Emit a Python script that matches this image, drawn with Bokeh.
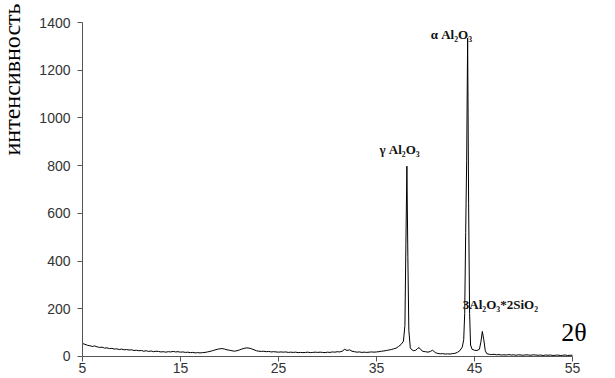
from bokeh.plotting import figure
from bokeh.models import Range1d, FixedTicker, Label
from bokeh.embed import file_html
from bokeh.resources import INLINE
import math

# ---- data ----
two_theta = [
    5.0, 5.25, 5.5, 5.75, 6.0, 6.25, 6.5, 6.75, 7.0, 7.25, 7.5, 7.75, 8.0, 8.25, 8.5, 8.75,
    9.0, 9.25, 9.5, 9.75, 10.0, 10.25, 10.5, 10.75, 11.0, 11.25, 11.5, 11.75, 12.0, 12.25,
    12.5, 12.75, 13.0, 13.25, 13.5, 13.75, 14.0, 14.25, 14.5, 14.75, 15.0, 15.25, 15.5, 15.75,
    16.0, 16.25, 16.5, 16.75, 17.0, 17.25, 17.5, 17.75, 18.0, 18.25, 18.5, 18.75, 19.0, 19.25,
    19.5, 19.75, 20.0, 20.25, 20.5, 20.75, 21.0, 21.25, 21.5, 21.75, 22.0, 22.25, 22.5, 22.75,
    23.0, 23.25, 23.5, 23.75, 24.0, 24.25, 24.5, 24.75, 25.0, 25.25, 25.5, 25.75, 26.0, 26.25,
    26.5, 26.75, 27.0, 27.25, 27.5, 27.75, 28.0, 28.25, 28.5, 28.75, 29.0, 29.25, 29.5, 29.75,
    30.0, 30.25, 30.5, 30.75, 31.0, 31.25, 31.5, 31.75, 32.0, 32.25, 32.5, 32.75, 33.0, 33.25,
    33.5, 33.75, 34.0, 34.25, 34.5, 34.75, 35.0, 35.25, 35.5, 35.75, 36.0, 36.25, 36.5, 36.75,
    37.0, 37.25, 37.5, 37.75, 37.9, 38.0, 38.1, 38.2, 38.3, 38.45, 38.6, 38.8, 39.0, 39.2,
    39.35, 39.5, 39.75, 40.0, 40.25, 40.5, 40.7, 40.85, 41.0, 41.25, 41.5, 41.75, 42.0, 42.25,
    42.5, 42.75, 43.0, 43.25, 43.5, 43.75, 43.9, 44.0, 44.1, 44.2, 44.3, 44.4, 44.5, 44.6,
    44.75, 45.0, 45.25, 45.5, 45.65, 45.8, 45.95, 46.1, 46.25, 46.5, 46.75, 47.0, 47.25, 47.5,
    47.75, 48.0, 48.25, 48.5, 48.75, 49.0, 49.25, 49.5, 49.75, 50.0, 50.25, 50.5, 50.75, 51.0,
    51.25, 51.5, 51.75, 52.0, 52.25, 52.5, 52.75, 53.0, 53.25, 53.5, 53.75, 54.0, 54.25, 54.5,
    54.75, 55.0,
]
intensity = [
    54, 51, 47, 45, 42, 44, 40, 38, 39, 35, 36, 33, 34, 31, 32, 29,
    31, 28, 29, 27, 28, 25, 26, 24, 25, 22, 24, 21, 23, 20,
    22, 21, 19, 20, 18, 20, 19, 21, 19, 20, 18, 19, 17, 18,
    16, 17, 15, 16, 15, 16, 17, 19, 21, 24, 27, 30, 32, 33,
    31, 28, 26, 24, 22, 24, 27, 31, 34, 36, 35, 32, 28, 24,
    22, 21, 22, 20, 21, 19, 20, 19, 18, 19, 18, 19, 17, 18,
    17, 18, 16, 17, 16, 17, 18, 16, 17, 18, 17, 18, 17, 16,
    18, 17, 19, 18, 20, 19, 22, 30, 25, 28, 22, 20, 18, 19,
    17, 18, 17, 18, 19, 18, 19, 20, 22, 23, 25, 27, 29, 32,
    35, 42, 50, 64, 130, 470, 798, 420, 110, 36, 28, 24, 26, 34,
    37, 29, 21, 20, 18, 21, 26, 22, 16, 13, 11, 12, 10, 11,
    10, 12, 13, 17, 24, 39, 70, 180, 520, 820, 1335, 640, 180, 48,
    30, 26, 25, 30, 60, 105, 70, 24, 12, 9, 8, 9, 7, 8,
    6, 7, 6, 8, 6, 7, 5, 7, 6, 5, 7, 6, 5, 7,
    6, 5, 6, 4, 6, 5, 6, 4, 5, 6, 4, 5, 6, 4,
    5, 5,
]

x_ticks = [5, 15, 25, 35, 45, 55]
y_ticks = [0, 200, 400, 600, 800, 1000, 1200, 1400]

peak_labels = ["γ Al₂O₃", "α Al₂O₃", "3Al₂O₃*2SiO₂"]
peak_label_x = [37.35, 44.75, 47.65]
peak_label_y = [869, 1348, 218]
peak_label_align = ["center", "right", "center"]

y_title = "интенсивность"
x_title = "2θ"

# ---- figure ----
# the frame fills the canvas; the axes sit at fixed data locations, bounded to 5..55 and 0..1400
p = figure(width=615, height=378, output_backend="svg", toolbar_location=None,
           x_range=Range1d(-3.367, 59.388), y_range=Range1d(-92.4, 1492.4),
           min_border_left=0, min_border_right=0, min_border_top=0, min_border_bottom=0)
p.outline_line_color = None
p.grid.visible = False
p.background_fill_color = "white"
p.border_fill_color = "white"

axis_col = "#555555"
for ax in (p.xaxis[0], p.yaxis[0]):
    ax.axis_line_color = axis_col
    ax.major_tick_line_color = axis_col
    ax.minor_tick_line_color = None
    ax.major_tick_in = 0
    ax.major_tick_out = 5
    ax.major_label_text_font = "Liberation Sans"
    ax.major_label_text_font_size = "14px"
    ax.major_label_text_color = "#333333"

p.yaxis.ticker = FixedTicker(ticks=y_ticks)
p.yaxis.bounds = (0, 1400)
p.yaxis.fixed_location = 5
p.yaxis.major_label_standoff = 7

p.xaxis.ticker = FixedTicker(ticks=x_ticks)
p.xaxis.bounds = (5, 55)
p.xaxis.fixed_location = 0
p.xaxis.major_label_standoff = 2

p.line(two_theta, intensity, line_color="black", line_width=1)

# peak annotations
for t, xx, yy, al in zip(peak_labels, peak_label_x, peak_label_y, peak_label_align):
    p.add_layout(Label(x=xx, y=yy, text=t, text_align=al, text_baseline="middle",
                       text_font="Liberation Serif", text_font_size="13px",
                       text_font_style="bold", text_color="#111111"))

# axis titles
p.add_layout(Label(x=55.15, y=99, text=x_title, text_align="center", text_baseline="middle",
                   text_font="Liberation Serif", text_font_size="26px", text_color="black"))
p.add_layout(Label(x=11, y=223, x_units="screen", y_units="screen", text=y_title,
                   angle=math.pi / 2, text_align="left", text_baseline="middle",
                   text_font="Liberation Serif", text_font_size="24px", text_color="black"))

open("out.html", "w").write(file_html(p, INLINE))
